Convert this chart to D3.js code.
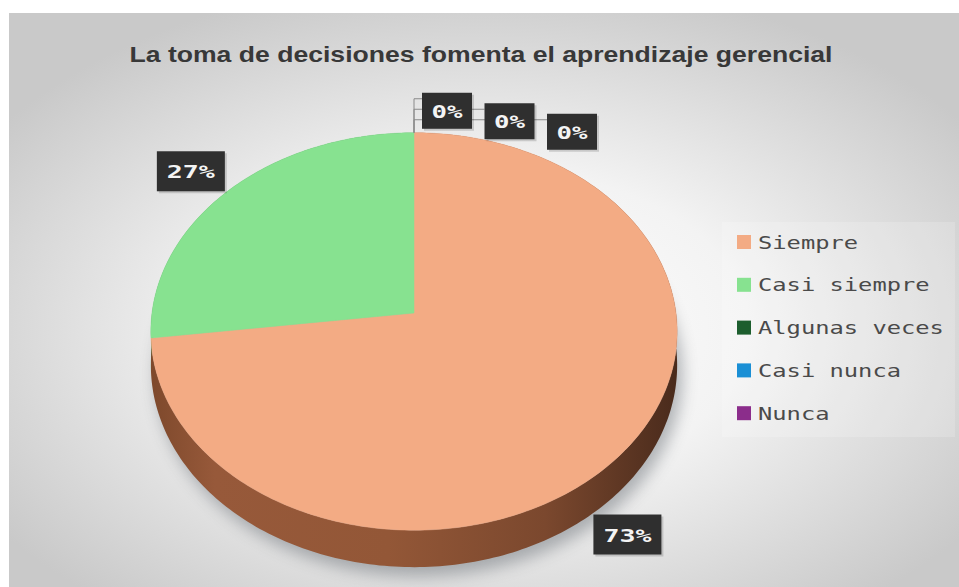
<!DOCTYPE html>
<html>
<head>
<meta charset="utf-8">
<script src="https://cdn.jsdelivr.net/npm/d3@7"></script>
<style>
  body { margin:0; background:#fff; }
  svg { display:block; }
</style>
</head>
<body>
<svg id="chart" width="959" height="587"></svg>
<script>
// datos
var titulo = "La toma de decisiones fomenta el aprendizaje gerencial";
var categorias = ["Siempre", "Casi siempre", "Algunas veces", "Casi nunca", "Nunca"];
var valores = [73, 27, 0, 0, 0];
var colores = ["#f3ab84", "#87e290", "#1d5e2e", "#1a8fd5", "#8b2d8b"];

var svg = d3.select("#chart");
var defs = svg.append("defs");

// fondo con degradado radial
var bg = defs.append("radialGradient").attr("id", "bg")
  .attr("cx", "50%").attr("cy", "55%").attr("r", "62%");
bg.append("stop").attr("offset", "0").attr("stop-color", "#ffffff");
bg.append("stop").attr("offset", "0.45").attr("stop-color", "#f3f3f3");
bg.append("stop").attr("offset", "1").attr("stop-color", "#c9c9c9");
svg.append("rect").attr("x", 9).attr("y", 13).attr("width", 950).attr("height", 574)
  .attr("fill", "url(#bg)");

// titulo
svg.append("text").attr("x", 481).attr("y", 62)
  .attr("text-anchor", "middle")
  .style("font-family", "'Liberation Sans', Arial, sans-serif")
  .style("font-weight", "bold").style("font-size", "22px")
  .attr("fill", "#383838")
  .attr("textLength", 703).attr("lengthAdjust", "spacingAndGlyphs")
  .text(titulo);

// proyeccion en perspectiva del disco
var cx = 414, cy = 313, A = 262, B = 197, K = 0.093, H = 33.5;
function proj(phi, r, w) {
  var u = r * Math.sin(phi), v = r * Math.cos(phi);
  var d = 1 + K * v;
  return [cx + A * u / d, cy + (-B * v + H * w) / d];
}
function rim(a0, a1, w) {
  var n = Math.max(2, Math.ceil((a1 - a0) / (Math.PI / 180)));
  var pts = [];
  for (var i = 0; i <= n; i++) pts.push(proj(a0 + (a1 - a0) * i / n, 1, w));
  return pts;
}
var line = d3.line().curve(d3.curveLinear);

var pie = d3.pie().sort(null).startAngle(0).endAngle(2 * Math.PI);
var arcs = pie(valores);

// sombra
var f = defs.append("filter").attr("id", "sombra").attr("x", "-20%").attr("y", "-20%")
  .attr("width", "140%").attr("height", "140%");
f.append("feGaussianBlur").attr("stdDeviation", 8);
var gs = svg.append("g").attr("filter", "url(#sombra)").attr("transform", "translate(5,9)")
  .attr("opacity", 0.45);
gs.append("path").attr("d", line(rim(0, 2 * Math.PI, 1)) + "Z").attr("fill", "#5a6068");

// lado del pastel
var lado = defs.append("linearGradient").attr("id", "lado")
  .attr("gradientUnits", "userSpaceOnUse")
  .attr("x1", cx - A).attr("x2", cx + A).attr("y1", 0).attr("y2", 0);
[["0", "#7e492c"], ["0.12", "#97593a"], ["0.45", "#935737"], ["0.75", "#7b482e"], ["1", "#4a2b1c"]]
  .forEach(function(s) { lado.append("stop").attr("offset", s[0]).attr("stop-color", s[1]); });

function sombraColor(i) {
  return i === 0 ? "url(#lado)" : d3.color(colores[i]).darker(1.3);
}

arcs.forEach(function(a, i) {
  if (a.endAngle - a.startAngle <= 0) return;
  var top = rim(a.startAngle, a.endAngle, 0);
  var bot = rim(a.startAngle, a.endAngle, 1).reverse();
  svg.append("path").attr("d", line(top.concat(bot)) + "Z").attr("fill", sombraColor(i));
});

// cara superior
arcs.forEach(function(a, i) {
  if (a.endAngle - a.startAngle <= 0) return;
  var pts = [proj(0, 0, 0)].concat(rim(a.startAngle, a.endAngle, 0));
  svg.append("path").attr("d", line(pts) + "Z").attr("fill", colores[i])
    .attr("stroke", colores[i]).attr("stroke-width", 0.5);
});

// etiquetas
var fmt = d3.format(".0%");
var total = d3.sum(valores);
var monoFont = "'DejaVu Sans Mono', 'Liberation Mono', monospace";

function etiqueta(x, y, w, h, txt, charW) {
  svg.append("rect").attr("x", x + 2).attr("y", y + 2).attr("width", w).attr("height", h)
    .attr("fill", "#000").attr("opacity", 0.15);
  svg.append("rect").attr("x", x).attr("y", y).attr("width", w).attr("height", h)
    .attr("fill", "#2f2f2f");
  svg.append("text").attr("x", x + w / 2).attr("y", y + h / 2 + 7)
    .attr("text-anchor", "middle").attr("fill", "#f4f4f4")
    .style("font-family", monoFont).style("font-weight", "bold").style("font-size", "18px")
    .attr("textLength", txt.length * charW).attr("lengthAdjust", "spacingAndGlyphs")
    .text(txt);
}

var ceros = [];
arcs.forEach(function(a, i) {
  var txt = fmt(a.value / total);
  if (a.value === 0) { ceros.push(a); return; }
  var mid = (a.startAngle + a.endAngle) / 2;
  var bw = 68, bh = 40;
  if (Math.cos(mid) > 0) {
    // rebanada trasera: esquina del cuadro junto al borde
    var p = proj(mid, 1, 0);
    var bx = Math.sin(mid) < 0 ? p[0] - bw - 4 : p[0] + 4;
    etiqueta(bx, p[1] - bh + 1, bw, bh, txt, 16);
  } else {
    // rebanada delantera: debajo del lado
    var q = proj(mid, 1, 1);
    etiqueta(q[0] - bw / 2 + 4, q[1] + 27, bw, bh, txt, 16);
  }
});

// etiquetas de 0% escalonadas con lineas guia
var T = proj(0, 1, 0);
ceros.forEach(function(a, j) {
  var bx = T[0] + 8 + j * 62.5, by = T[1] - 40 + j * 10.5;
  var ly = by + 6;
  svg.append("path").attr("d", line([[T[0], T[1]], [T[0], ly], [bx, ly]]))
    .attr("fill", "none").attr("stroke", "#8a8a8a").attr("stroke-width", 1);
});
ceros.forEach(function(a, j) {
  var bx = T[0] + 8 + j * 62.5, by = T[1] - 40 + j * 10.5;
  etiqueta(bx, by, 50, 36, fmt(a.value / total), 15.5);
});

// leyenda
svg.append("rect").attr("x", 722).attr("y", 222).attr("width", 233).attr("height", 215)
  .attr("fill", "#ffffff").attr("opacity", 0.18);
var ley = svg.append("g").selectAll("g").data(categorias).enter().append("g")
  .attr("transform", function(d, i) { return "translate(737," + (242 + i * 42.8) + ")"; });
ley.append("rect").attr("x", 0).attr("y", -7).attr("width", 14).attr("height", 14)
  .attr("fill", function(d, i) { return colores[i]; });
ley.append("text").attr("x", 21).attr("y", 6.5)
  .style("font-family", monoFont).style("font-size", "18px")
  .attr("fill", "#4a4a4a")
  .attr("textLength", function(d) { return d.length * 14.3; })
  .attr("lengthAdjust", "spacingAndGlyphs")
  .text(function(d) { return d; });
</script>
</body>
</html>
